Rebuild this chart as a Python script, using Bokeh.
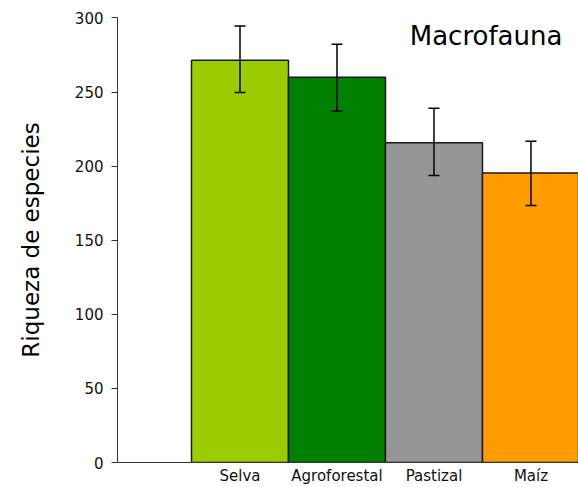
from bokeh.plotting import figure
from bokeh.models import ColumnDataSource, Whisker, TeeHead, Label, FixedTicker
from bokeh.embed import file_html
from bokeh.resources import INLINE

categories = ["Selva", "Agroforestal", "Pastizal", "Maíz"]
richness = [271.5, 260, 215.8, 195.3]
upper_err = [294.6, 282.2, 239.0, 216.8]
lower_err = [249.7, 237.2, 193.6, 173.5]
colors = ["#9ccc00", "#008000", "#969696", "#ff9c00"]
y_ticks = [0, 50, 100, 150, 200, 250, 300]

xpos = [i + 1 for i in range(len(categories))]
src = ColumnDataSource(dict(x=xpos, top=richness, upper=upper_err, lower=lower_err, color=colors))

p = figure(width=578, height=487, output_backend="svg", toolbar_location=None,
           x_range=(-0.263, 4.49), y_range=(0, 300.3),
           min_border_left=117, min_border_right=0, min_border_top=17, min_border_bottom=23)
p.outline_line_color = None
p.xgrid.visible = False
p.ygrid.visible = False
p.background_fill_color = "white"

p.vbar(x="x", top="top", width=1.0, bottom=0, source=src, fill_color="color",
       line_color="#1a1a1a", line_width=1.5)

w = Whisker(base="x", upper="upper", lower="lower", source=src, line_color="black", line_width=1.5,
            level="overlay",
            upper_head=TeeHead(size=11, line_color="black", line_width=1.5),
            lower_head=TeeHead(size=11, line_color="black", line_width=1.5))
p.add_layout(w)

p.add_layout(Label(x=2.75, y=287.5, text="Macrofauna", text_font="DejaVu Sans",
                   text_font_size="26px", text_color="black", text_baseline="alphabetic"))

font = "DejaVu Sans"
p.yaxis.ticker = FixedTicker(ticks=y_ticks)
p.yaxis.minor_tick_line_color = None
p.yaxis.major_tick_out = 6
p.yaxis.major_tick_in = 0
p.yaxis.major_label_standoff = 8
p.yaxis.major_label_text_font = font
p.yaxis.major_label_text_font_size = "15px"
p.yaxis.major_label_text_color = "#111111"
p.yaxis.axis_line_color = "#333333"
p.yaxis.major_tick_line_color = "#333333"
p.yaxis.axis_label = "Riqueza de especies"
p.yaxis.axis_label_text_font = font
p.yaxis.axis_label_text_font_size = "23px"
p.yaxis.axis_label_text_font_style = "normal"
p.yaxis.axis_label_text_color = "black"
p.yaxis.axis_label_standoff = 28

p.xaxis.ticker = FixedTicker(ticks=xpos)
p.xaxis.major_label_overrides = {x: c for x, c in zip(xpos, categories)}
p.xaxis.minor_tick_line_color = None
p.xaxis.major_tick_out = 0
p.xaxis.major_tick_in = 0
p.xaxis.major_label_standoff = 4
p.xaxis.major_label_text_font = font
p.xaxis.major_label_text_font_size = "15px"
p.xaxis.major_label_text_color = "#111111"
p.xaxis.axis_line_color = "#333333"

open("out.html", "w").write(file_html(p, INLINE))
